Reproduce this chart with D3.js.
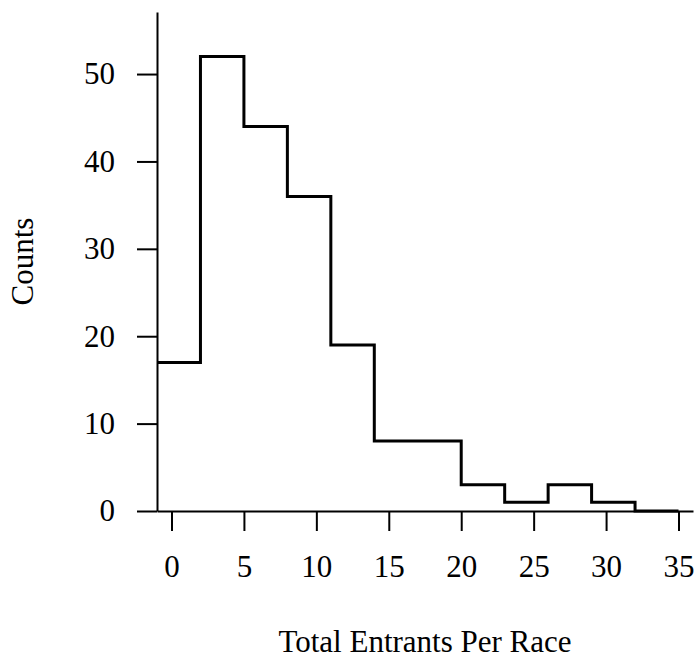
<!DOCTYPE html>
<html>
<head>
<meta charset="utf-8">
<script src="https://cdn.jsdelivr.net/npm/d3@7"></script>
<style>
  html, body { margin: 0; padding: 0; background: #fff; }
  svg { display: block; }
  text { font-family: "Liberation Serif", "Times New Roman", serif; fill: #000; }
</style>
</head>
<body>
<svg id="chart" width="698" height="660"></svg>
<script>
// Histogram of total entrants per race: bin edges and counts per bin
const binEdges = [-1, 2, 5, 8, 11, 14, 17, 20, 23, 26, 29, 32, 35];
const binCounts = [17, 52, 44, 36, 19, 8, 8, 3, 1, 3, 1, 0];
const xTicks = [0, 5, 10, 15, 20, 25, 30, 35];
const yTicks = [0, 10, 20, 30, 40, 50];

const svg = d3.select("#chart");
const fontSize = 31;

const x = d3.scaleLinear().domain([-1, 36]).range([157, 693]);
const y = d3.scaleLinear().domain([0, 57.1]).range([511, 12]);

// Step outline of the histogram
const pts = [];
binCounts.forEach((c, i) => {
  pts.push([binEdges[i], c]);
  pts.push([binEdges[i + 1], c]);
});
const line = d3.line().x(d => x(d[0])).y(d => y(d[1]));

// Axes
const xAxis = d3.axisBottom(x).tickValues(xTicks).tickSize(20).tickSizeOuter(0).tickPadding(24);
const yAxis = d3.axisLeft(y).tickValues(yTicks).tickSize(20).tickSizeOuter(0).tickPadding(22);

const gx = svg.append("g").attr("transform", `translate(0,${y(0)})`).call(xAxis);
const gy = svg.append("g").attr("transform", `translate(${x(-1)},0)`).call(yAxis);

[gx, gy].forEach(g => {
  g.select(".domain").attr("stroke", "#000").attr("stroke-width", 2);
  g.selectAll(".tick line").attr("stroke", "#000").attr("stroke-width", 2);
  g.selectAll(".tick text")
    .attr("font-family", "'Liberation Serif', 'Times New Roman', serif")
    .attr("font-size", fontSize)
    .attr("fill", "#000");
});

svg.append("path")
  .datum(pts)
  .attr("d", line)
  .attr("fill", "none")
  .attr("stroke", "#000")
  .attr("stroke-width", 3)
  .attr("stroke-linejoin", "miter");

// Axis titles
svg.append("text")
  .attr("x", (x(-1) + x(36)) / 2)
  .attr("y", 652)
  .attr("text-anchor", "middle")
  .attr("font-size", fontSize)
  .text("Total Entrants Per Race");

svg.append("text")
  .attr("transform", `translate(33,${(y(0) + y(57.1)) / 2}) rotate(-90)`)
  .attr("text-anchor", "middle")
  .attr("font-size", fontSize)
  .text("Counts");
</script>
</body>
</html>
